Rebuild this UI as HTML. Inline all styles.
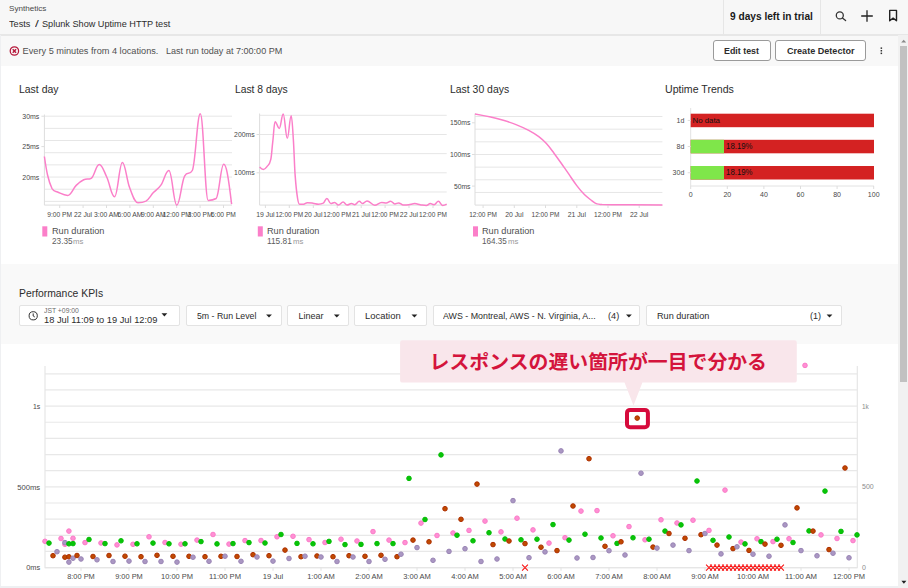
<!DOCTYPE html>
<html lang="en"><head><meta charset="utf-8"><title>Splunk Show Uptime HTTP test</title><style>
html,body{margin:0;padding:0;background:#fff}
body{width:908px;height:588px;position:relative;overflow:hidden;font-family:"Liberation Sans",sans-serif}
.a{position:absolute}
.t{position:absolute;white-space:pre;line-height:1;transform-origin:0 0}
.btn{position:absolute;box-sizing:border-box;background:#fff;border:1px solid #9a9a9a;border-radius:3px}
.sel{position:absolute;box-sizing:border-box;background:#fff;border:1px solid #e3e3e3;border-radius:2px;top:305.3px;height:20.6px}
svg{position:absolute;left:0;top:0}
svg text{font-family:"Liberation Sans",sans-serif}
</style></head><body>
<div class="a" style="left:0;top:0;width:908px;height:34px;background:#f7f7f7"></div>
<div class="a" style="left:0;top:34px;width:908px;height:1.5px;background:#e7e7e7"></div>
<div class="a" style="left:0;top:35.5px;width:899px;height:30.2px;background:#f8f8f8"></div>
<div class="a" style="left:722.5px;top:0;width:1px;height:34px;background:#e6e6e6"></div>
<div class="a" style="left:820px;top:0;width:1px;height:34px;background:#e6e6e6"></div>
<div class="a" style="left:0;top:263.5px;width:899px;height:80px;background:#f9f9f9"></div>
<div class="a" style="left:0;top:35px;width:1px;height:553px;background:#eff0f2"></div>
<div class="a" style="left:0;top:586px;width:899px;height:2px;background:#eef0f2"></div>
<div class="a" style="left:898.2px;top:35px;width:9.8px;height:553px;background:#f1f1f1"></div>
<div class="a" style="left:899.8px;top:46.4px;width:7.2px;height:335.8px;background:#c1c1c1"></div>
<div class="btn" style="left:712.8px;top:40.1px;width:57.8px;height:21.4px"></div>
<div class="btn" style="left:775.4px;top:40.1px;width:90.2px;height:21.4px"></div>
<div class="sel" style="left:19.2px;width:160.5px"></div>
<div class="sel" style="left:185.5px;width:96px"></div>
<div class="sel" style="left:286.9px;width:62.4px"></div>
<div class="sel" style="left:354.4px;width:72.2px"></div>
<div class="sel" style="left:433.1px;width:207.4px"></div>
<div class="sel" style="left:646.3px;width:195.3px"></div>
<svg width="908" height="588" viewBox="0 0 908 588">
<line x1="44.4" y1="116.20" x2="232" y2="116.20" stroke="#e6e6e6" stroke-width="1"/>
<line x1="44.4" y1="128.37" x2="232" y2="128.37" stroke="#e6e6e6" stroke-width="1"/>
<line x1="44.4" y1="140.54" x2="232" y2="140.54" stroke="#e6e6e6" stroke-width="1"/>
<line x1="44.4" y1="152.71" x2="232" y2="152.71" stroke="#e6e6e6" stroke-width="1"/>
<line x1="44.4" y1="164.88" x2="232" y2="164.88" stroke="#e6e6e6" stroke-width="1"/>
<line x1="44.4" y1="177.05" x2="232" y2="177.05" stroke="#e6e6e6" stroke-width="1"/>
<line x1="44.4" y1="189.22" x2="232" y2="189.22" stroke="#e6e6e6" stroke-width="1"/>
<line x1="44.4" y1="201.39" x2="232" y2="201.39" stroke="#e6e6e6" stroke-width="1"/>
<path d="M44.4,114.5V205.1H232" fill="none" stroke="#dddddd" stroke-width="1"/>
<line x1="41.4" y1="116.2" x2="44.4" y2="116.2" stroke="#dddddd"/>
<text x="39.3" y="118.7" font-size="7" text-anchor="end" fill="#484848" font-weight="400" textLength="17" lengthAdjust="spacingAndGlyphs">30ms</text>
<line x1="41.4" y1="146.6" x2="44.4" y2="146.6" stroke="#dddddd"/>
<text x="39.3" y="149.1" font-size="7" text-anchor="end" fill="#484848" font-weight="400" textLength="17" lengthAdjust="spacingAndGlyphs">25ms</text>
<line x1="41.4" y1="177.0" x2="44.4" y2="177.0" stroke="#dddddd"/>
<text x="39.3" y="179.5" font-size="7" text-anchor="end" fill="#484848" font-weight="400" textLength="17" lengthAdjust="spacingAndGlyphs">20ms</text>
<line x1="59.7" y1="205.1" x2="59.7" y2="208" stroke="#dddddd"/>
<text x="59.7" y="216.6" font-size="7" text-anchor="middle" fill="#484848" font-weight="400" textLength="24.8" lengthAdjust="spacingAndGlyphs">9:00 PM</text>
<line x1="83.1" y1="205.1" x2="83.1" y2="208" stroke="#dddddd"/>
<text x="83.1" y="216.6" font-size="7" text-anchor="middle" fill="#484848" font-weight="400" textLength="18.0" lengthAdjust="spacingAndGlyphs">22 Jul</text>
<line x1="106.5" y1="205.1" x2="106.5" y2="208" stroke="#dddddd"/>
<text x="106.5" y="216.6" font-size="7" text-anchor="middle" fill="#484848" font-weight="400" textLength="24.8" lengthAdjust="spacingAndGlyphs">3:00 AM</text>
<line x1="129.9" y1="205.1" x2="129.9" y2="208" stroke="#dddddd"/>
<text x="129.9" y="216.6" font-size="7" text-anchor="middle" fill="#484848" font-weight="400" textLength="24.8" lengthAdjust="spacingAndGlyphs">6:00 AM</text>
<line x1="153.3" y1="205.1" x2="153.3" y2="208" stroke="#dddddd"/>
<text x="153.3" y="216.6" font-size="7" text-anchor="middle" fill="#484848" font-weight="400" textLength="24.8" lengthAdjust="spacingAndGlyphs">9:00 AM</text>
<line x1="176.7" y1="205.1" x2="176.7" y2="208" stroke="#dddddd"/>
<text x="176.7" y="216.6" font-size="7" text-anchor="middle" fill="#484848" font-weight="400" textLength="28.4" lengthAdjust="spacingAndGlyphs">12:00 PM</text>
<line x1="200.1" y1="205.1" x2="200.1" y2="208" stroke="#dddddd"/>
<text x="200.1" y="216.6" font-size="7" text-anchor="middle" fill="#484848" font-weight="400" textLength="24.8" lengthAdjust="spacingAndGlyphs">3:00 PM</text>
<line x1="223.5" y1="205.1" x2="223.5" y2="208" stroke="#dddddd"/>
<text x="223.5" y="216.6" font-size="7" text-anchor="middle" fill="#484848" font-weight="400" textLength="24.8" lengthAdjust="spacingAndGlyphs">6:00 PM</text>
<path d="M44.4,156.5C44.4,156.5 46.3,169.8 47.6,175.2C49.3,182.5 50.2,184.6 51.9,188.3C54.1,192.0 55.3,191.0 57.5,192.0C61.6,193.8 63.7,195.4 67.8,195.4C71.2,195.4 72.8,188.7 76.2,185.4C79.2,182.5 80.7,181.2 83.7,179.8C86.7,178.4 88.2,179.8 91.2,178.3C94.4,176.8 96.0,164.5 99.2,164.5C102.2,164.5 103.7,170.7 106.7,177.0C109.9,183.6 111.4,196.7 114.6,196.7C117.7,196.7 119.3,162.6 122.4,162.6C125.2,162.6 126.7,180.0 129.5,187.3C132.9,196.0 134.6,202.7 138.0,202.7C141.2,202.7 142.7,202.7 145.9,201.1C148.9,199.5 150.4,195.8 153.4,192.6C156.4,189.4 157.9,189.4 160.9,185.1C164.1,180.5 165.7,170.5 168.9,170.5C172.1,170.5 173.6,205.1 176.8,205.1C179.9,205.1 181.5,181.7 184.6,176.1C187.7,170.5 189.2,176.1 192.3,170.5C195.5,164.9 197.1,113.8 200.3,113.8C203.5,113.8 205.0,200.4 208.2,200.4C211.4,200.4 212.9,200.4 216.1,198.5C219.1,196.6 220.7,164.3 223.7,164.3C225.1,164.3 225.9,166.0 227.3,173.3C229.0,182.0 231.6,204.2 231.6,204.2" fill="none" stroke="#fb7fc9" stroke-width="1.5" stroke-linejoin="round"/>
<line x1="259.6" y1="115.30" x2="446.7" y2="115.30" stroke="#e6e6e6" stroke-width="1"/>
<line x1="259.6" y1="134.47" x2="446.7" y2="134.47" stroke="#e6e6e6" stroke-width="1"/>
<line x1="259.6" y1="153.64" x2="446.7" y2="153.64" stroke="#e6e6e6" stroke-width="1"/>
<line x1="259.6" y1="172.81" x2="446.7" y2="172.81" stroke="#e6e6e6" stroke-width="1"/>
<line x1="259.6" y1="191.98" x2="446.7" y2="191.98" stroke="#e6e6e6" stroke-width="1"/>
<path d="M259.6,113.5V205.1H446.7" fill="none" stroke="#dddddd" stroke-width="1"/>
<line x1="256.6" y1="134.5" x2="259.6" y2="134.5" stroke="#dddddd"/>
<text x="254.6" y="137.0" font-size="7" text-anchor="end" fill="#484848" font-weight="400" textLength="20.5" lengthAdjust="spacingAndGlyphs">200ms</text>
<line x1="256.6" y1="172.8" x2="259.6" y2="172.8" stroke="#dddddd"/>
<text x="254.6" y="175.3" font-size="7" text-anchor="end" fill="#484848" font-weight="400" textLength="20.5" lengthAdjust="spacingAndGlyphs">100ms</text>
<line x1="265.4" y1="205.1" x2="265.4" y2="208" stroke="#dddddd"/>
<text x="265.4" y="216.6" font-size="7" text-anchor="middle" fill="#484848" font-weight="400" textLength="18.3" lengthAdjust="spacingAndGlyphs">19 Jul</text>
<line x1="289.3" y1="205.1" x2="289.3" y2="208" stroke="#dddddd"/>
<text x="289.3" y="216.6" font-size="7" text-anchor="middle" fill="#484848" font-weight="400" textLength="27.8" lengthAdjust="spacingAndGlyphs">12:00 PM</text>
<line x1="313.3" y1="205.1" x2="313.3" y2="208" stroke="#dddddd"/>
<text x="313.3" y="216.6" font-size="7" text-anchor="middle" fill="#484848" font-weight="400" textLength="18.3" lengthAdjust="spacingAndGlyphs">20 Jul</text>
<line x1="337.2" y1="205.1" x2="337.2" y2="208" stroke="#dddddd"/>
<text x="337.2" y="216.6" font-size="7" text-anchor="middle" fill="#484848" font-weight="400" textLength="27.8" lengthAdjust="spacingAndGlyphs">12:00 PM</text>
<line x1="361.2" y1="205.1" x2="361.2" y2="208" stroke="#dddddd"/>
<text x="361.2" y="216.6" font-size="7" text-anchor="middle" fill="#484848" font-weight="400" textLength="18.3" lengthAdjust="spacingAndGlyphs">21 Jul</text>
<line x1="385.1" y1="205.1" x2="385.1" y2="208" stroke="#dddddd"/>
<text x="385.1" y="216.6" font-size="7" text-anchor="middle" fill="#484848" font-weight="400" textLength="27.8" lengthAdjust="spacingAndGlyphs">12:00 PM</text>
<line x1="409.0" y1="205.1" x2="409.0" y2="208" stroke="#dddddd"/>
<text x="409.0" y="216.6" font-size="7" text-anchor="middle" fill="#484848" font-weight="400" textLength="18.3" lengthAdjust="spacingAndGlyphs">22 Jul</text>
<line x1="433.0" y1="205.1" x2="433.0" y2="208" stroke="#dddddd"/>
<text x="433.0" y="216.6" font-size="7" text-anchor="middle" fill="#484848" font-weight="400" textLength="27.8" lengthAdjust="spacingAndGlyphs">12:00 PM</text>
<path d="M259.6,167.1C259.6,167.1 261.9,169.5 263.4,169.5C264.9,169.5 265.6,168.4 267.1,166.4C268.6,164.4 269.3,165.6 270.8,159.3C271.6,156.0 271.9,149.0 272.7,142.4C273.7,134.0 274.1,121.8 275.1,121.8C276.8,121.8 277.6,128.4 279.3,128.4C280.9,128.4 281.6,114.0 283.2,114.0C284.8,114.0 285.7,138.3 287.3,138.3C288.9,138.3 289.6,115.7 291.2,115.7C292.0,115.7 292.5,126.0 293.3,138.7C294.1,150.2 294.4,165.5 295.2,176.1C296.2,189.5 296.6,192.2 297.6,198.5C298.4,203.5 298.7,204.2 299.5,204.2C301.1,204.2 302.0,204.2 303.6,204.2C305.1,204.2 305.8,202.7 307.3,202.7C309.5,202.7 310.7,202.9 312.9,203.2C315.1,203.5 316.3,204.2 318.5,204.2C320.4,204.2 321.3,204.2 323.2,203.2C324.7,202.2 325.4,198.5 326.9,198.5C328.5,198.5 329.2,203.6 330.8,203.6C332.3,203.6 333.1,202.4 334.6,202.4C336.2,202.4 336.9,205.0 338.5,205.0C340.3,205.0 341.3,202.1 343.1,202.1C344.7,202.1 345.4,205.0 347.0,205.0C348.8,205.0 349.8,203.5 351.6,203.5C352.8,203.5 353.5,204.7 354.7,204.7C356.5,204.7 357.5,201.2 359.3,201.2C360.5,201.2 361.2,203.6 362.4,203.6C364.2,203.6 365.2,200.9 367.0,200.9C370.1,200.9 371.6,205.2 374.7,205.2C377.5,205.2 378.9,202.4 381.7,202.4C383.5,202.4 384.5,202.9 386.3,202.9C388.0,202.9 388.9,201.2 390.6,201.2C392.3,201.2 393.1,203.9 394.8,203.9C396.3,203.9 397.1,202.9 398.6,202.9C400.5,202.9 401.4,205.0 403.3,205.0C405.5,205.0 406.5,205.0 408.7,204.7C411.1,204.4 412.4,203.6 414.8,203.6C417.0,203.6 418.0,204.3 420.2,204.7C422.7,205.1 423.9,205.5 426.4,205.5C427.9,205.5 428.7,203.6 430.2,203.6C431.8,203.6 432.5,204.7 434.1,204.7C435.8,204.7 436.7,201.3 438.4,201.3C440.1,201.3 440.9,205.5 442.6,205.5C444.2,205.5 446.7,204.2 446.7,204.2" fill="none" stroke="#fb7fc9" stroke-width="1.5" stroke-linejoin="round"/>
<line x1="475" y1="116.50" x2="662.4" y2="116.50" stroke="#e6e6e6" stroke-width="1"/>
<line x1="475" y1="129.16" x2="662.4" y2="129.16" stroke="#e6e6e6" stroke-width="1"/>
<line x1="475" y1="141.82" x2="662.4" y2="141.82" stroke="#e6e6e6" stroke-width="1"/>
<line x1="475" y1="154.48" x2="662.4" y2="154.48" stroke="#e6e6e6" stroke-width="1"/>
<line x1="475" y1="167.14" x2="662.4" y2="167.14" stroke="#e6e6e6" stroke-width="1"/>
<line x1="475" y1="179.80" x2="662.4" y2="179.80" stroke="#e6e6e6" stroke-width="1"/>
<line x1="475" y1="192.46" x2="662.4" y2="192.46" stroke="#e6e6e6" stroke-width="1"/>
<path d="M475,113.5V205.1H662.4" fill="none" stroke="#dddddd" stroke-width="1"/>
<line x1="472" y1="122.8" x2="475" y2="122.8" stroke="#dddddd"/>
<text x="470.4" y="125.3" font-size="7" text-anchor="end" fill="#484848" font-weight="400" textLength="20.5" lengthAdjust="spacingAndGlyphs">150ms</text>
<line x1="472" y1="154.5" x2="475" y2="154.5" stroke="#dddddd"/>
<text x="470.4" y="157.0" font-size="7" text-anchor="end" fill="#484848" font-weight="400" textLength="20.5" lengthAdjust="spacingAndGlyphs">100ms</text>
<line x1="472" y1="186.1" x2="475" y2="186.1" stroke="#dddddd"/>
<text x="470.4" y="188.6" font-size="7" text-anchor="end" fill="#484848" font-weight="400" textLength="16.5" lengthAdjust="spacingAndGlyphs">50ms</text>
<line x1="483.1" y1="205.1" x2="483.1" y2="208" stroke="#dddddd"/>
<text x="483.1" y="216.6" font-size="7" text-anchor="middle" fill="#484848" font-weight="400" textLength="27.8" lengthAdjust="spacingAndGlyphs">12:00 PM</text>
<line x1="514.3" y1="205.1" x2="514.3" y2="208" stroke="#dddddd"/>
<text x="514.3" y="216.6" font-size="7" text-anchor="middle" fill="#484848" font-weight="400" textLength="18.3" lengthAdjust="spacingAndGlyphs">20 Jul</text>
<line x1="545.5" y1="205.1" x2="545.5" y2="208" stroke="#dddddd"/>
<text x="545.5" y="216.6" font-size="7" text-anchor="middle" fill="#484848" font-weight="400" textLength="27.8" lengthAdjust="spacingAndGlyphs">12:00 PM</text>
<line x1="576.8" y1="205.1" x2="576.8" y2="208" stroke="#dddddd"/>
<text x="576.8" y="216.6" font-size="7" text-anchor="middle" fill="#484848" font-weight="400" textLength="18.3" lengthAdjust="spacingAndGlyphs">21 Jul</text>
<line x1="608.0" y1="205.1" x2="608.0" y2="208" stroke="#dddddd"/>
<text x="608.0" y="216.6" font-size="7" text-anchor="middle" fill="#484848" font-weight="400" textLength="27.8" lengthAdjust="spacingAndGlyphs">12:00 PM</text>
<line x1="639.2" y1="205.1" x2="639.2" y2="208" stroke="#dddddd"/>
<text x="639.2" y="216.6" font-size="7" text-anchor="middle" fill="#484848" font-weight="400" textLength="18.3" lengthAdjust="spacingAndGlyphs">22 Jul</text>
<path d="M475.0,113.9C475.0,113.9 484.4,115.6 490.7,117.0C495.7,118.1 498.3,118.8 503.3,120.3C508.4,121.8 510.9,122.6 516.0,124.6C521.1,126.6 523.6,127.7 528.7,130.4C532.7,132.5 534.8,133.7 538.8,136.7C541.8,139.0 543.4,140.3 546.4,143.6C549.4,146.9 551.0,149.2 554.0,153.2C557.0,157.2 558.6,159.5 561.6,163.8C564.6,168.1 566.2,170.3 569.2,174.7C572.2,179.1 573.8,181.6 576.8,185.6C579.8,189.6 581.4,191.5 584.4,194.5C587.4,197.5 589.0,198.5 592.0,200.8C594.0,202.3 595.0,203.3 597.0,203.9C599.0,204.5 600.1,204.3 602.1,204.5C608.2,204.7 611.2,204.6 617.3,204.7C635.3,204.9 662.4,205.1 662.4,205.1" fill="none" stroke="#fb7fc9" stroke-width="1.5" stroke-linejoin="round"/>
<rect x="42.3" y="226.3" width="5" height="10.2" fill="#fb7fc9"/>
<rect x="257.8" y="226.3" width="5" height="10.2" fill="#fb7fc9"/>
<rect x="473" y="226.3" width="5" height="10.2" fill="#fb7fc9"/>
<path d="M690.7,108V186H874.0" fill="none" stroke="#e2e2e2"/>
<rect x="690.7" y="113.7" width="183.3" height="13.5" fill="#d42222"/>
<line x1="687.7" y1="120.45" x2="690.7" y2="120.45" stroke="#dddddd"/>
<text x="684.3" y="123.0" font-size="7" text-anchor="end" fill="#484848" font-weight="400">1d</text>
<rect x="690.7" y="139.8" width="183.3" height="13.5" fill="#d42222"/>
<rect x="690.7" y="139.8" width="33.3" height="13.5" fill="#7fe64a"/>
<line x1="687.7" y1="146.55" x2="690.7" y2="146.55" stroke="#dddddd"/>
<text x="684.3" y="149.10000000000002" font-size="7" text-anchor="end" fill="#484848" font-weight="400">8d</text>
<rect x="690.7" y="166.0" width="183.3" height="13.5" fill="#d42222"/>
<rect x="690.7" y="166.0" width="33.3" height="13.5" fill="#7fe64a"/>
<line x1="687.7" y1="172.75" x2="690.7" y2="172.75" stroke="#dddddd"/>
<text x="684.3" y="175.3" font-size="7" text-anchor="end" fill="#484848" font-weight="400">30d</text>
<text x="692.5" y="122.6" font-size="7.5" text-anchor="start" fill="#111" font-weight="400" textLength="27.5" lengthAdjust="spacingAndGlyphs">No data</text>
<text x="726.1" y="149.0" font-size="8.5" text-anchor="start" fill="#111" font-weight="400" textLength="26.4" lengthAdjust="spacingAndGlyphs">18.19%</text>
<text x="726.1" y="175.1" font-size="8.5" text-anchor="start" fill="#111" font-weight="400" textLength="26.4" lengthAdjust="spacingAndGlyphs">18.19%</text>
<line x1="690.7" y1="186" x2="690.7" y2="189" stroke="#dddddd"/>
<text x="690.7" y="196.6" font-size="7" text-anchor="middle" fill="#484848" font-weight="400">0</text>
<line x1="727.3" y1="186" x2="727.3" y2="189" stroke="#dddddd"/>
<text x="727.3" y="196.6" font-size="7" text-anchor="middle" fill="#484848" font-weight="400">20</text>
<line x1="763.9" y1="186" x2="763.9" y2="189" stroke="#dddddd"/>
<text x="763.9" y="196.6" font-size="7" text-anchor="middle" fill="#484848" font-weight="400">40</text>
<line x1="800.5" y1="186" x2="800.5" y2="189" stroke="#dddddd"/>
<text x="800.5" y="196.6" font-size="7" text-anchor="middle" fill="#484848" font-weight="400">60</text>
<line x1="837.1" y1="186" x2="837.1" y2="189" stroke="#dddddd"/>
<text x="837.1" y="196.6" font-size="7" text-anchor="middle" fill="#484848" font-weight="400">80</text>
<line x1="873.7" y1="186" x2="873.7" y2="189" stroke="#dddddd"/>
<text x="873.7" y="196.6" font-size="7" text-anchor="middle" fill="#484848" font-weight="400">100</text>
<line x1="45.0" y1="567.60" x2="857.3" y2="567.60" stroke="#e8e8e8" stroke-width="1.2"/>
<line x1="45.0" y1="551.45" x2="857.3" y2="551.45" stroke="#e8e8e8" stroke-width="1.2"/>
<line x1="45.0" y1="535.30" x2="857.3" y2="535.30" stroke="#e8e8e8" stroke-width="1.2"/>
<line x1="45.0" y1="519.15" x2="857.3" y2="519.15" stroke="#e8e8e8" stroke-width="1.2"/>
<line x1="45.0" y1="503.00" x2="857.3" y2="503.00" stroke="#e8e8e8" stroke-width="1.2"/>
<line x1="45.0" y1="486.85" x2="857.3" y2="486.85" stroke="#e8e8e8" stroke-width="1.2"/>
<line x1="45.0" y1="470.70" x2="857.3" y2="470.70" stroke="#e8e8e8" stroke-width="1.2"/>
<line x1="45.0" y1="454.55" x2="857.3" y2="454.55" stroke="#e8e8e8" stroke-width="1.2"/>
<line x1="45.0" y1="438.40" x2="857.3" y2="438.40" stroke="#e8e8e8" stroke-width="1.2"/>
<line x1="45.0" y1="422.25" x2="857.3" y2="422.25" stroke="#e8e8e8" stroke-width="1.2"/>
<line x1="45.0" y1="406.10" x2="857.3" y2="406.10" stroke="#e8e8e8" stroke-width="1.2"/>
<line x1="45.0" y1="389.95" x2="857.3" y2="389.95" stroke="#e8e8e8" stroke-width="1.2"/>
<line x1="45.0" y1="373.80" x2="857.3" y2="373.80" stroke="#e8e8e8" stroke-width="1.2"/>
<path d="M45.0,366V567.6H857.3V366" fill="none" stroke="#e6e6e6" stroke-width="1.2"/>
<text x="40.2" y="408.90000000000003" font-size="7.6" text-anchor="end" fill="#4a4a4a" font-weight="400" textLength="7.3" lengthAdjust="spacingAndGlyphs">1s</text>
<text x="40.2" y="489.65000000000003" font-size="7.6" text-anchor="end" fill="#4a4a4a" font-weight="400" textLength="23" lengthAdjust="spacingAndGlyphs">500ms</text>
<text x="40.2" y="570.4" font-size="7.6" text-anchor="end" fill="#4a4a4a" font-weight="400" textLength="14" lengthAdjust="spacingAndGlyphs">0ms</text>
<text x="862" y="408.5" font-size="6.8" text-anchor="start" fill="#8c8c8c" font-weight="400" textLength="6.8" lengthAdjust="spacingAndGlyphs">1k</text>
<text x="862" y="489.25" font-size="6.8" text-anchor="start" fill="#8c8c8c" font-weight="400" textLength="11.7" lengthAdjust="spacingAndGlyphs">500</text>
<text x="862" y="570.0" font-size="6.8" text-anchor="start" fill="#8c8c8c" font-weight="400" textLength="3.9" lengthAdjust="spacingAndGlyphs">0</text>
<line x1="81" y1="567.6" x2="81" y2="570.8" stroke="#e2e2e2"/>
<text x="81" y="579.4" font-size="7.8" text-anchor="middle" fill="#4a4a4a" font-weight="400" textLength="27.6" lengthAdjust="spacingAndGlyphs">8:00 PM</text>
<line x1="129" y1="567.6" x2="129" y2="570.8" stroke="#e2e2e2"/>
<text x="129" y="579.4" font-size="7.8" text-anchor="middle" fill="#4a4a4a" font-weight="400" textLength="27.6" lengthAdjust="spacingAndGlyphs">9:00 PM</text>
<line x1="177" y1="567.6" x2="177" y2="570.8" stroke="#e2e2e2"/>
<text x="177" y="579.4" font-size="7.8" text-anchor="middle" fill="#4a4a4a" font-weight="400" textLength="32" lengthAdjust="spacingAndGlyphs">10:00 PM</text>
<line x1="225" y1="567.6" x2="225" y2="570.8" stroke="#e2e2e2"/>
<text x="225" y="579.4" font-size="7.8" text-anchor="middle" fill="#4a4a4a" font-weight="400" textLength="32" lengthAdjust="spacingAndGlyphs">11:00 PM</text>
<line x1="273" y1="567.6" x2="273" y2="570.8" stroke="#e2e2e2"/>
<text x="273" y="579.4" font-size="7.8" text-anchor="middle" fill="#4a4a4a" font-weight="400" textLength="20.5" lengthAdjust="spacingAndGlyphs">19 Jul</text>
<line x1="321" y1="567.6" x2="321" y2="570.8" stroke="#e2e2e2"/>
<text x="321" y="579.4" font-size="7.8" text-anchor="middle" fill="#4a4a4a" font-weight="400" textLength="27.6" lengthAdjust="spacingAndGlyphs">1:00 AM</text>
<line x1="369" y1="567.6" x2="369" y2="570.8" stroke="#e2e2e2"/>
<text x="369" y="579.4" font-size="7.8" text-anchor="middle" fill="#4a4a4a" font-weight="400" textLength="27.6" lengthAdjust="spacingAndGlyphs">2:00 AM</text>
<line x1="417" y1="567.6" x2="417" y2="570.8" stroke="#e2e2e2"/>
<text x="417" y="579.4" font-size="7.8" text-anchor="middle" fill="#4a4a4a" font-weight="400" textLength="27.6" lengthAdjust="spacingAndGlyphs">3:00 AM</text>
<line x1="465" y1="567.6" x2="465" y2="570.8" stroke="#e2e2e2"/>
<text x="465" y="579.4" font-size="7.8" text-anchor="middle" fill="#4a4a4a" font-weight="400" textLength="27.6" lengthAdjust="spacingAndGlyphs">4:00 AM</text>
<line x1="513" y1="567.6" x2="513" y2="570.8" stroke="#e2e2e2"/>
<text x="513" y="579.4" font-size="7.8" text-anchor="middle" fill="#4a4a4a" font-weight="400" textLength="27.6" lengthAdjust="spacingAndGlyphs">5:00 AM</text>
<line x1="561" y1="567.6" x2="561" y2="570.8" stroke="#e2e2e2"/>
<text x="561" y="579.4" font-size="7.8" text-anchor="middle" fill="#4a4a4a" font-weight="400" textLength="27.6" lengthAdjust="spacingAndGlyphs">6:00 AM</text>
<line x1="609" y1="567.6" x2="609" y2="570.8" stroke="#e2e2e2"/>
<text x="609" y="579.4" font-size="7.8" text-anchor="middle" fill="#4a4a4a" font-weight="400" textLength="27.6" lengthAdjust="spacingAndGlyphs">7:00 AM</text>
<line x1="657" y1="567.6" x2="657" y2="570.8" stroke="#e2e2e2"/>
<text x="657" y="579.4" font-size="7.8" text-anchor="middle" fill="#4a4a4a" font-weight="400" textLength="27.6" lengthAdjust="spacingAndGlyphs">8:00 AM</text>
<line x1="705" y1="567.6" x2="705" y2="570.8" stroke="#e2e2e2"/>
<text x="705" y="579.4" font-size="7.8" text-anchor="middle" fill="#4a4a4a" font-weight="400" textLength="27.6" lengthAdjust="spacingAndGlyphs">9:00 AM</text>
<line x1="753" y1="567.6" x2="753" y2="570.8" stroke="#e2e2e2"/>
<text x="753" y="579.4" font-size="7.8" text-anchor="middle" fill="#4a4a4a" font-weight="400" textLength="32" lengthAdjust="spacingAndGlyphs">10:00 AM</text>
<line x1="801" y1="567.6" x2="801" y2="570.8" stroke="#e2e2e2"/>
<text x="801" y="579.4" font-size="7.8" text-anchor="middle" fill="#4a4a4a" font-weight="400" textLength="32" lengthAdjust="spacingAndGlyphs">11:00 AM</text>
<line x1="849" y1="567.6" x2="849" y2="570.8" stroke="#e2e2e2"/>
<text x="849" y="579.4" font-size="7.8" text-anchor="middle" fill="#4a4a4a" font-weight="400" textLength="32" lengthAdjust="spacingAndGlyphs">12:00 PM</text>
<circle cx="45.0" cy="541.3" r="2.3" fill="#ff8fd4" stroke="#fb7bc8" stroke-width="1"/>
<circle cx="49.0" cy="543.1" r="2.3" fill="#08c408" stroke="#05bd05" stroke-width="1"/>
<circle cx="53.0" cy="555.7" r="2.3" fill="#c04a00" stroke="#ae2e00" stroke-width="1"/>
<circle cx="57.0" cy="551.7" r="2.3" fill="#aa97c3" stroke="#9a85b5" stroke-width="1"/>
<circle cx="61.0" cy="538.5" r="2.3" fill="#ff8fd4" stroke="#fb7bc8" stroke-width="1"/>
<circle cx="64.9" cy="544.3" r="2.3" fill="#ff8fd4" stroke="#fb7bc8" stroke-width="1"/>
<circle cx="64.9" cy="557.2" r="2.3" fill="#c04a00" stroke="#ae2e00" stroke-width="1"/>
<circle cx="64.9" cy="542.6" r="2.3" fill="#aa97c3" stroke="#9a85b5" stroke-width="1"/>
<circle cx="68.9" cy="531.1" r="2.3" fill="#ff8fd4" stroke="#fb7bc8" stroke-width="1"/>
<circle cx="68.9" cy="543.8" r="2.3" fill="#08c408" stroke="#05bd05" stroke-width="1"/>
<circle cx="68.9" cy="556.8" r="2.3" fill="#c04a00" stroke="#ae2e00" stroke-width="1"/>
<circle cx="68.9" cy="562.1" r="2.3" fill="#aa97c3" stroke="#9a85b5" stroke-width="1"/>
<circle cx="73.0" cy="538.3" r="2.3" fill="#ff8fd4" stroke="#fb7bc8" stroke-width="1"/>
<circle cx="73.0" cy="543.6" r="2.3" fill="#08c408" stroke="#05bd05" stroke-width="1"/>
<circle cx="73.0" cy="558.2" r="2.3" fill="#aa97c3" stroke="#9a85b5" stroke-width="1"/>
<circle cx="77.0" cy="555.5" r="2.3" fill="#c04a00" stroke="#ae2e00" stroke-width="1"/>
<circle cx="81.0" cy="559.0" r="2.3" fill="#aa97c3" stroke="#9a85b5" stroke-width="1"/>
<circle cx="85.0" cy="542.6" r="2.3" fill="#ff8fd4" stroke="#fb7bc8" stroke-width="1"/>
<circle cx="89.0" cy="539.5" r="2.3" fill="#08c408" stroke="#05bd05" stroke-width="1"/>
<circle cx="93.0" cy="556.5" r="2.3" fill="#c04a00" stroke="#ae2e00" stroke-width="1"/>
<circle cx="97.0" cy="559.8" r="2.3" fill="#aa97c3" stroke="#9a85b5" stroke-width="1"/>
<circle cx="101.0" cy="543.0" r="2.3" fill="#ff8fd4" stroke="#fb7bc8" stroke-width="1"/>
<circle cx="105.0" cy="543.6" r="2.3" fill="#08c408" stroke="#05bd05" stroke-width="1"/>
<circle cx="109.0" cy="555.5" r="2.3" fill="#c04a00" stroke="#ae2e00" stroke-width="1"/>
<circle cx="113.0" cy="561.5" r="2.3" fill="#aa97c3" stroke="#9a85b5" stroke-width="1"/>
<circle cx="117.0" cy="544.9" r="2.3" fill="#ff8fd4" stroke="#fb7bc8" stroke-width="1"/>
<circle cx="121.0" cy="540.8" r="2.3" fill="#08c408" stroke="#05bd05" stroke-width="1"/>
<circle cx="125.0" cy="556.2" r="2.3" fill="#c04a00" stroke="#ae2e00" stroke-width="1"/>
<circle cx="129.0" cy="561.1" r="2.3" fill="#aa97c3" stroke="#9a85b5" stroke-width="1"/>
<circle cx="133.0" cy="544.3" r="2.3" fill="#ff8fd4" stroke="#fb7bc8" stroke-width="1"/>
<circle cx="137.0" cy="543.8" r="2.3" fill="#08c408" stroke="#05bd05" stroke-width="1"/>
<circle cx="141.0" cy="556.7" r="2.3" fill="#c04a00" stroke="#ae2e00" stroke-width="1"/>
<circle cx="145.0" cy="561.5" r="2.3" fill="#aa97c3" stroke="#9a85b5" stroke-width="1"/>
<circle cx="149.0" cy="536.8" r="2.3" fill="#ff8fd4" stroke="#fb7bc8" stroke-width="1"/>
<circle cx="153.0" cy="543.1" r="2.3" fill="#08c408" stroke="#05bd05" stroke-width="1"/>
<circle cx="157.0" cy="555.3" r="2.3" fill="#c04a00" stroke="#ae2e00" stroke-width="1"/>
<circle cx="161.0" cy="561.5" r="2.3" fill="#aa97c3" stroke="#9a85b5" stroke-width="1"/>
<circle cx="165.0" cy="542.5" r="2.3" fill="#ff8fd4" stroke="#fb7bc8" stroke-width="1"/>
<circle cx="169.0" cy="543.8" r="2.3" fill="#08c408" stroke="#05bd05" stroke-width="1"/>
<circle cx="173.0" cy="556.3" r="2.3" fill="#c04a00" stroke="#ae2e00" stroke-width="1"/>
<circle cx="177.0" cy="562.1" r="2.3" fill="#aa97c3" stroke="#9a85b5" stroke-width="1"/>
<circle cx="181.0" cy="544.2" r="2.3" fill="#ff8fd4" stroke="#fb7bc8" stroke-width="1"/>
<circle cx="185.0" cy="543.8" r="2.3" fill="#08c408" stroke="#05bd05" stroke-width="1"/>
<circle cx="189.0" cy="556.3" r="2.3" fill="#c04a00" stroke="#ae2e00" stroke-width="1"/>
<circle cx="193.0" cy="557.2" r="2.3" fill="#aa97c3" stroke="#9a85b5" stroke-width="1"/>
<circle cx="197.0" cy="540.1" r="2.3" fill="#ff8fd4" stroke="#fb7bc8" stroke-width="1"/>
<circle cx="201.0" cy="541.6" r="2.3" fill="#08c408" stroke="#05bd05" stroke-width="1"/>
<circle cx="205.0" cy="556.7" r="2.3" fill="#c04a00" stroke="#ae2e00" stroke-width="1"/>
<circle cx="209.0" cy="561.3" r="2.3" fill="#aa97c3" stroke="#9a85b5" stroke-width="1"/>
<circle cx="213.0" cy="534.5" r="2.3" fill="#ff8fd4" stroke="#fb7bc8" stroke-width="1"/>
<circle cx="217.0" cy="543.9" r="2.3" fill="#08c408" stroke="#05bd05" stroke-width="1"/>
<circle cx="221.0" cy="556.3" r="2.3" fill="#c04a00" stroke="#ae2e00" stroke-width="1"/>
<circle cx="225.0" cy="556.2" r="2.3" fill="#aa97c3" stroke="#9a85b5" stroke-width="1"/>
<circle cx="229.0" cy="544.1" r="2.3" fill="#ff8fd4" stroke="#fb7bc8" stroke-width="1"/>
<circle cx="233.0" cy="543.6" r="2.3" fill="#08c408" stroke="#05bd05" stroke-width="1"/>
<circle cx="237.0" cy="556.5" r="2.3" fill="#c04a00" stroke="#ae2e00" stroke-width="1"/>
<circle cx="241.0" cy="561.3" r="2.3" fill="#aa97c3" stroke="#9a85b5" stroke-width="1"/>
<circle cx="245.0" cy="540.6" r="2.3" fill="#ff8fd4" stroke="#fb7bc8" stroke-width="1"/>
<circle cx="249.0" cy="542.6" r="2.3" fill="#08c408" stroke="#05bd05" stroke-width="1"/>
<circle cx="253.0" cy="554.7" r="2.3" fill="#c04a00" stroke="#ae2e00" stroke-width="1"/>
<circle cx="257.0" cy="557.0" r="2.3" fill="#aa97c3" stroke="#9a85b5" stroke-width="1"/>
<circle cx="261.0" cy="540.5" r="2.3" fill="#ff8fd4" stroke="#fb7bc8" stroke-width="1"/>
<circle cx="265.0" cy="543.0" r="2.3" fill="#08c408" stroke="#05bd05" stroke-width="1"/>
<circle cx="269.0" cy="555.7" r="2.3" fill="#c04a00" stroke="#ae2e00" stroke-width="1"/>
<circle cx="273.0" cy="561.1" r="2.3" fill="#aa97c3" stroke="#9a85b5" stroke-width="1"/>
<circle cx="277.0" cy="536.8" r="2.3" fill="#ff8fd4" stroke="#fb7bc8" stroke-width="1"/>
<circle cx="281.0" cy="534.5" r="2.3" fill="#08c408" stroke="#05bd05" stroke-width="1"/>
<circle cx="285.0" cy="550.1" r="2.3" fill="#c04a00" stroke="#ae2e00" stroke-width="1"/>
<circle cx="289.0" cy="558.5" r="2.3" fill="#aa97c3" stroke="#9a85b5" stroke-width="1"/>
<circle cx="293.0" cy="536.3" r="2.3" fill="#ff8fd4" stroke="#fb7bc8" stroke-width="1"/>
<circle cx="297.0" cy="543.4" r="2.3" fill="#08c408" stroke="#05bd05" stroke-width="1"/>
<circle cx="301.0" cy="556.7" r="2.3" fill="#c04a00" stroke="#ae2e00" stroke-width="1"/>
<circle cx="305.0" cy="556.2" r="2.3" fill="#aa97c3" stroke="#9a85b5" stroke-width="1"/>
<circle cx="309.0" cy="539.6" r="2.3" fill="#ff8fd4" stroke="#fb7bc8" stroke-width="1"/>
<circle cx="313.0" cy="543.8" r="2.3" fill="#08c408" stroke="#05bd05" stroke-width="1"/>
<circle cx="317.0" cy="556.0" r="2.3" fill="#c04a00" stroke="#ae2e00" stroke-width="1"/>
<circle cx="321.0" cy="557.0" r="2.3" fill="#aa97c3" stroke="#9a85b5" stroke-width="1"/>
<circle cx="325.0" cy="542.5" r="2.3" fill="#ff8fd4" stroke="#fb7bc8" stroke-width="1"/>
<circle cx="329.0" cy="541.4" r="2.3" fill="#08c408" stroke="#05bd05" stroke-width="1"/>
<circle cx="333.0" cy="556.7" r="2.3" fill="#c04a00" stroke="#ae2e00" stroke-width="1"/>
<circle cx="337.0" cy="561.5" r="2.3" fill="#aa97c3" stroke="#9a85b5" stroke-width="1"/>
<circle cx="341.0" cy="539.2" r="2.3" fill="#ff8fd4" stroke="#fb7bc8" stroke-width="1"/>
<circle cx="345.0" cy="544.6" r="2.3" fill="#08c408" stroke="#05bd05" stroke-width="1"/>
<circle cx="349.0" cy="555.7" r="2.3" fill="#c04a00" stroke="#ae2e00" stroke-width="1"/>
<circle cx="353.0" cy="557.0" r="2.3" fill="#aa97c3" stroke="#9a85b5" stroke-width="1"/>
<circle cx="357.0" cy="541.0" r="2.3" fill="#ff8fd4" stroke="#fb7bc8" stroke-width="1"/>
<circle cx="361.0" cy="544.4" r="2.3" fill="#08c408" stroke="#05bd05" stroke-width="1"/>
<circle cx="365.0" cy="556.3" r="2.3" fill="#c04a00" stroke="#ae2e00" stroke-width="1"/>
<circle cx="369.0" cy="561.5" r="2.3" fill="#aa97c3" stroke="#9a85b5" stroke-width="1"/>
<circle cx="373.0" cy="531.6" r="2.3" fill="#ff8fd4" stroke="#fb7bc8" stroke-width="1"/>
<circle cx="377.0" cy="543.6" r="2.3" fill="#08c408" stroke="#05bd05" stroke-width="1"/>
<circle cx="381.0" cy="555.3" r="2.3" fill="#c04a00" stroke="#ae2e00" stroke-width="1"/>
<circle cx="385.0" cy="559.3" r="2.3" fill="#aa97c3" stroke="#9a85b5" stroke-width="1"/>
<circle cx="389.0" cy="540.1" r="2.3" fill="#ff8fd4" stroke="#fb7bc8" stroke-width="1"/>
<circle cx="393.0" cy="543.6" r="2.3" fill="#08c408" stroke="#05bd05" stroke-width="1"/>
<circle cx="397.0" cy="556.7" r="2.3" fill="#c04a00" stroke="#ae2e00" stroke-width="1"/>
<circle cx="401.0" cy="554.2" r="2.3" fill="#aa97c3" stroke="#9a85b5" stroke-width="1"/>
<circle cx="405.0" cy="542.6" r="2.3" fill="#ff8fd4" stroke="#fb7bc8" stroke-width="1"/>
<circle cx="409.0" cy="478.4" r="2.3" fill="#08c408" stroke="#05bd05" stroke-width="1"/>
<circle cx="413.0" cy="540.1" r="2.3" fill="#c04a00" stroke="#ae2e00" stroke-width="1"/>
<circle cx="417.0" cy="547.6" r="2.3" fill="#aa97c3" stroke="#9a85b5" stroke-width="1"/>
<circle cx="421.0" cy="523.1" r="2.3" fill="#ff8fd4" stroke="#fb7bc8" stroke-width="1"/>
<circle cx="425.0" cy="519.5" r="2.3" fill="#08c408" stroke="#05bd05" stroke-width="1"/>
<circle cx="429.0" cy="541.8" r="2.3" fill="#c04a00" stroke="#ae2e00" stroke-width="1"/>
<circle cx="433.0" cy="560.3" r="2.3" fill="#aa97c3" stroke="#9a85b5" stroke-width="1"/>
<circle cx="437.0" cy="535.5" r="2.3" fill="#ff8fd4" stroke="#fb7bc8" stroke-width="1"/>
<circle cx="441.0" cy="454.9" r="2.3" fill="#08c408" stroke="#05bd05" stroke-width="1"/>
<circle cx="445.0" cy="508.7" r="2.3" fill="#c04a00" stroke="#ae2e00" stroke-width="1"/>
<circle cx="449.0" cy="551.4" r="2.3" fill="#aa97c3" stroke="#9a85b5" stroke-width="1"/>
<circle cx="453.0" cy="533.0" r="2.3" fill="#ff8fd4" stroke="#fb7bc8" stroke-width="1"/>
<circle cx="457.0" cy="535.2" r="2.3" fill="#08c408" stroke="#05bd05" stroke-width="1"/>
<circle cx="461.0" cy="519.3" r="2.3" fill="#c04a00" stroke="#ae2e00" stroke-width="1"/>
<circle cx="465.0" cy="548.7" r="2.3" fill="#aa97c3" stroke="#9a85b5" stroke-width="1"/>
<circle cx="469.0" cy="530.4" r="2.3" fill="#ff8fd4" stroke="#fb7bc8" stroke-width="1"/>
<circle cx="473.0" cy="540.8" r="2.3" fill="#08c408" stroke="#05bd05" stroke-width="1"/>
<circle cx="477.0" cy="484.1" r="2.3" fill="#c04a00" stroke="#ae2e00" stroke-width="1"/>
<circle cx="481.0" cy="561.5" r="2.3" fill="#aa97c3" stroke="#9a85b5" stroke-width="1"/>
<circle cx="485.0" cy="521.1" r="2.3" fill="#ff8fd4" stroke="#fb7bc8" stroke-width="1"/>
<circle cx="489.0" cy="532.7" r="2.3" fill="#08c408" stroke="#05bd05" stroke-width="1"/>
<circle cx="493.0" cy="544.6" r="2.3" fill="#c04a00" stroke="#ae2e00" stroke-width="1"/>
<circle cx="497.0" cy="559.0" r="2.3" fill="#aa97c3" stroke="#9a85b5" stroke-width="1"/>
<circle cx="501.0" cy="531.9" r="2.3" fill="#ff8fd4" stroke="#fb7bc8" stroke-width="1"/>
<circle cx="505.0" cy="539.0" r="2.3" fill="#08c408" stroke="#05bd05" stroke-width="1"/>
<circle cx="509.0" cy="541.0" r="2.3" fill="#c04a00" stroke="#ae2e00" stroke-width="1"/>
<circle cx="513.0" cy="500.6" r="2.3" fill="#aa97c3" stroke="#9a85b5" stroke-width="1"/>
<circle cx="517.0" cy="518.2" r="2.3" fill="#ff8fd4" stroke="#fb7bc8" stroke-width="1"/>
<circle cx="521.0" cy="539.8" r="2.3" fill="#08c408" stroke="#05bd05" stroke-width="1"/>
<circle cx="525.0" cy="543.6" r="2.3" fill="#c04a00" stroke="#ae2e00" stroke-width="1"/>
<circle cx="529.0" cy="557.7" r="2.3" fill="#aa97c3" stroke="#9a85b5" stroke-width="1"/>
<circle cx="533.0" cy="529.9" r="2.3" fill="#ff8fd4" stroke="#fb7bc8" stroke-width="1"/>
<circle cx="537.0" cy="539.2" r="2.3" fill="#08c408" stroke="#05bd05" stroke-width="1"/>
<circle cx="541.0" cy="547.2" r="2.3" fill="#c04a00" stroke="#ae2e00" stroke-width="1"/>
<circle cx="545.0" cy="551.9" r="2.3" fill="#aa97c3" stroke="#9a85b5" stroke-width="1"/>
<circle cx="549.0" cy="543.1" r="2.3" fill="#ff8fd4" stroke="#fb7bc8" stroke-width="1"/>
<circle cx="553.0" cy="524.6" r="2.3" fill="#08c408" stroke="#05bd05" stroke-width="1"/>
<circle cx="557.0" cy="550.6" r="2.3" fill="#c04a00" stroke="#ae2e00" stroke-width="1"/>
<circle cx="561.0" cy="450.9" r="2.3" fill="#aa97c3" stroke="#9a85b5" stroke-width="1"/>
<circle cx="565.0" cy="537.7" r="2.3" fill="#ff8fd4" stroke="#fb7bc8" stroke-width="1"/>
<circle cx="569.0" cy="540.1" r="2.3" fill="#08c408" stroke="#05bd05" stroke-width="1"/>
<circle cx="573.0" cy="506.0" r="2.3" fill="#c04a00" stroke="#ae2e00" stroke-width="1"/>
<circle cx="577.0" cy="558.0" r="2.3" fill="#aa97c3" stroke="#9a85b5" stroke-width="1"/>
<circle cx="581.0" cy="511.1" r="2.3" fill="#ff8fd4" stroke="#fb7bc8" stroke-width="1"/>
<circle cx="585.0" cy="534.2" r="2.3" fill="#08c408" stroke="#05bd05" stroke-width="1"/>
<circle cx="589.0" cy="458.7" r="2.3" fill="#c04a00" stroke="#ae2e00" stroke-width="1"/>
<circle cx="593.0" cy="557.5" r="2.3" fill="#aa97c3" stroke="#9a85b5" stroke-width="1"/>
<circle cx="597.0" cy="510.6" r="2.3" fill="#ff8fd4" stroke="#fb7bc8" stroke-width="1"/>
<circle cx="601.0" cy="538.0" r="2.3" fill="#08c408" stroke="#05bd05" stroke-width="1"/>
<circle cx="605.0" cy="546.3" r="2.3" fill="#c04a00" stroke="#ae2e00" stroke-width="1"/>
<circle cx="609.0" cy="550.7" r="2.3" fill="#aa97c3" stroke="#9a85b5" stroke-width="1"/>
<circle cx="613.0" cy="535.8" r="2.3" fill="#ff8fd4" stroke="#fb7bc8" stroke-width="1"/>
<circle cx="617.0" cy="543.4" r="2.3" fill="#08c408" stroke="#05bd05" stroke-width="1"/>
<circle cx="621.0" cy="541.8" r="2.3" fill="#c04a00" stroke="#ae2e00" stroke-width="1"/>
<circle cx="625.0" cy="555.0" r="2.3" fill="#aa97c3" stroke="#9a85b5" stroke-width="1"/>
<circle cx="629.0" cy="526.6" r="2.3" fill="#ff8fd4" stroke="#fb7bc8" stroke-width="1"/>
<circle cx="633.0" cy="537.8" r="2.3" fill="#08c408" stroke="#05bd05" stroke-width="1"/>
<circle cx="637.0" cy="418.1" r="2.3" fill="#c04a00" stroke="#ae2e00" stroke-width="1"/>
<circle cx="641.0" cy="473.2" r="2.3" fill="#aa97c3" stroke="#9a85b5" stroke-width="1"/>
<circle cx="645.0" cy="539.8" r="2.3" fill="#ff8fd4" stroke="#fb7bc8" stroke-width="1"/>
<circle cx="649.0" cy="539.2" r="2.3" fill="#08c408" stroke="#05bd05" stroke-width="1"/>
<circle cx="653.0" cy="547.1" r="2.3" fill="#c04a00" stroke="#ae2e00" stroke-width="1"/>
<circle cx="657.0" cy="548.1" r="2.3" fill="#aa97c3" stroke="#9a85b5" stroke-width="1"/>
<circle cx="661.0" cy="519.8" r="2.3" fill="#ff8fd4" stroke="#fb7bc8" stroke-width="1"/>
<circle cx="665.0" cy="531.1" r="2.3" fill="#08c408" stroke="#05bd05" stroke-width="1"/>
<circle cx="669.0" cy="533.5" r="2.3" fill="#c04a00" stroke="#ae2e00" stroke-width="1"/>
<circle cx="673.0" cy="545.1" r="2.3" fill="#aa97c3" stroke="#9a85b5" stroke-width="1"/>
<circle cx="677.0" cy="523.0" r="2.3" fill="#ff8fd4" stroke="#fb7bc8" stroke-width="1"/>
<circle cx="681.0" cy="524.9" r="2.3" fill="#08c408" stroke="#05bd05" stroke-width="1"/>
<circle cx="685.0" cy="538.3" r="2.3" fill="#c04a00" stroke="#ae2e00" stroke-width="1"/>
<circle cx="689.0" cy="550.6" r="2.3" fill="#aa97c3" stroke="#9a85b5" stroke-width="1"/>
<circle cx="693.0" cy="520.2" r="2.3" fill="#ff8fd4" stroke="#fb7bc8" stroke-width="1"/>
<circle cx="697.0" cy="481.0" r="2.3" fill="#08c408" stroke="#05bd05" stroke-width="1"/>
<circle cx="701.0" cy="534.7" r="2.3" fill="#c04a00" stroke="#ae2e00" stroke-width="1"/>
<circle cx="705.0" cy="533.5" r="2.3" fill="#aa97c3" stroke="#9a85b5" stroke-width="1"/>
<circle cx="709.0" cy="530.4" r="2.3" fill="#ff8fd4" stroke="#fb7bc8" stroke-width="1"/>
<circle cx="713.0" cy="540.3" r="2.3" fill="#08c408" stroke="#05bd05" stroke-width="1"/>
<circle cx="717.0" cy="545.1" r="2.3" fill="#c04a00" stroke="#ae2e00" stroke-width="1"/>
<circle cx="721.0" cy="553.9" r="2.3" fill="#aa97c3" stroke="#9a85b5" stroke-width="1"/>
<circle cx="725.0" cy="490.1" r="2.3" fill="#ff8fd4" stroke="#fb7bc8" stroke-width="1"/>
<circle cx="729.0" cy="537.0" r="2.3" fill="#08c408" stroke="#05bd05" stroke-width="1"/>
<circle cx="733.0" cy="548.6" r="2.3" fill="#c04a00" stroke="#ae2e00" stroke-width="1"/>
<circle cx="737.0" cy="546.8" r="2.3" fill="#aa97c3" stroke="#9a85b5" stroke-width="1"/>
<circle cx="741.0" cy="542.1" r="2.3" fill="#ff8fd4" stroke="#fb7bc8" stroke-width="1"/>
<circle cx="745.0" cy="543.9" r="2.3" fill="#08c408" stroke="#05bd05" stroke-width="1"/>
<circle cx="749.0" cy="550.4" r="2.3" fill="#c04a00" stroke="#ae2e00" stroke-width="1"/>
<circle cx="753.0" cy="554.2" r="2.3" fill="#aa97c3" stroke="#9a85b5" stroke-width="1"/>
<circle cx="757.0" cy="538.8" r="2.3" fill="#ff8fd4" stroke="#fb7bc8" stroke-width="1"/>
<circle cx="761.0" cy="541.6" r="2.3" fill="#08c408" stroke="#05bd05" stroke-width="1"/>
<circle cx="765.0" cy="544.1" r="2.3" fill="#c04a00" stroke="#ae2e00" stroke-width="1"/>
<circle cx="769.0" cy="556.2" r="2.3" fill="#aa97c3" stroke="#9a85b5" stroke-width="1"/>
<circle cx="773.0" cy="541.6" r="2.3" fill="#ff8fd4" stroke="#fb7bc8" stroke-width="1"/>
<circle cx="777.0" cy="539.2" r="2.3" fill="#08c408" stroke="#05bd05" stroke-width="1"/>
<circle cx="781.0" cy="545.3" r="2.3" fill="#c04a00" stroke="#ae2e00" stroke-width="1"/>
<circle cx="785.0" cy="524.9" r="2.3" fill="#aa97c3" stroke="#9a85b5" stroke-width="1"/>
<circle cx="789.0" cy="538.7" r="2.3" fill="#ff8fd4" stroke="#fb7bc8" stroke-width="1"/>
<circle cx="793.0" cy="542.5" r="2.3" fill="#08c408" stroke="#05bd05" stroke-width="1"/>
<circle cx="797.0" cy="507.9" r="2.3" fill="#c04a00" stroke="#ae2e00" stroke-width="1"/>
<circle cx="801.0" cy="550.6" r="2.3" fill="#aa97c3" stroke="#9a85b5" stroke-width="1"/>
<circle cx="805.0" cy="365.4" r="2.3" fill="#ff8fd4" stroke="#fb7bc8" stroke-width="1"/>
<circle cx="809.0" cy="530.9" r="2.3" fill="#08c408" stroke="#05bd05" stroke-width="1"/>
<circle cx="813.0" cy="531.1" r="2.3" fill="#c04a00" stroke="#ae2e00" stroke-width="1"/>
<circle cx="817.0" cy="555.8" r="2.3" fill="#aa97c3" stroke="#9a85b5" stroke-width="1"/>
<circle cx="821.0" cy="534.9" r="2.3" fill="#ff8fd4" stroke="#fb7bc8" stroke-width="1"/>
<circle cx="825.0" cy="491.1" r="2.3" fill="#08c408" stroke="#05bd05" stroke-width="1"/>
<circle cx="829.0" cy="549.6" r="2.3" fill="#c04a00" stroke="#ae2e00" stroke-width="1"/>
<circle cx="833.0" cy="553.2" r="2.3" fill="#aa97c3" stroke="#9a85b5" stroke-width="1"/>
<circle cx="837.0" cy="538.5" r="2.3" fill="#ff8fd4" stroke="#fb7bc8" stroke-width="1"/>
<circle cx="841.0" cy="531.4" r="2.3" fill="#08c408" stroke="#05bd05" stroke-width="1"/>
<circle cx="845.0" cy="468.0" r="2.3" fill="#c04a00" stroke="#ae2e00" stroke-width="1"/>
<circle cx="849.0" cy="557.8" r="2.3" fill="#aa97c3" stroke="#9a85b5" stroke-width="1"/>
<circle cx="853.0" cy="540.6" r="2.3" fill="#ff8fd4" stroke="#fb7bc8" stroke-width="1"/>
<circle cx="857.0" cy="534.9" r="2.3" fill="#08c408" stroke="#05bd05" stroke-width="1"/>
<path d="M522.1,564.7l5.8,6m0,-6l-5.8,6M706.1,564.7l5.8,6m0,-6l-5.8,6M710.1,564.7l5.8,6m0,-6l-5.8,6M714.1,564.7l5.8,6m0,-6l-5.8,6M718.1,564.7l5.8,6m0,-6l-5.8,6M722.1,564.7l5.8,6m0,-6l-5.8,6M726.1,564.7l5.8,6m0,-6l-5.8,6M730.1,564.7l5.8,6m0,-6l-5.8,6M734.1,564.7l5.8,6m0,-6l-5.8,6M738.1,564.7l5.8,6m0,-6l-5.8,6M742.1,564.7l5.8,6m0,-6l-5.8,6M746.1,564.7l5.8,6m0,-6l-5.8,6M750.1,564.7l5.8,6m0,-6l-5.8,6M754.1,564.7l5.8,6m0,-6l-5.8,6M758.1,564.7l5.8,6m0,-6l-5.8,6M762.1,564.7l5.8,6m0,-6l-5.8,6M766.1,564.7l5.8,6m0,-6l-5.8,6M770.1,564.7l5.8,6m0,-6l-5.8,6M774.1,564.7l5.8,6m0,-6l-5.8,6M778.1,564.7l5.8,6m0,-6l-5.8,6" stroke="#f90d0d" stroke-width="1.05" fill="none"/>
<path d="M402.3,340.2H794.6a2.2,2.2 0 0 1 2.2,2.2V380.4a2.2,2.2 0 0 1 -2.2,2.2H642.4L633.5,405.4L624.5,382.6H402.3a2.2,2.2 0 0 1 -2.2,-2.2V342.4a2.2,2.2 0 0 1 2.2,-2.2Z" fill="#f9e6eb"/>
<rect x="627" y="409.9" width="20.9" height="17.3" rx="3" fill="#fff" stroke="#d60a3c" stroke-width="4"/>
<circle cx="637.2" cy="418.1" r="2.3" fill="#c04a00" stroke="#ae2e00" stroke-width="1"/>
<text x="429.6" y="369.2" font-size="19.8" font-weight="700" fill="#d4143c" text-anchor="start" textLength="337.4" lengthAdjust="spacingAndGlyphs" style="font-family:'Liberation Sans','Noto Sans CJK JP',sans-serif">レスポンスの遅い箇所が一目で分かる</text>
<g stroke="#b5173a" fill="none" stroke-width="1.25"><circle cx="14.4" cy="51" r="4.2"/><path d="M12.7,49.3l3.4,3.4m0,-3.4l-3.4,3.4" stroke-width="1.4"/></g>
<g stroke="#333" fill="none" stroke-width="1.3" stroke-linecap="round"><circle cx="839.8" cy="15.4" r="3.5"/><path d="M842.4,18.0l3.2,2.6"/></g>
<path d="M861.2,16h11.6M867,10.2v11.6" stroke="#222" stroke-width="1.3" fill="none"/>
<path d="M889.7,10.4h6.8v10.4l-3.4,-2.7l-3.4,2.7z" stroke="#222" stroke-width="1.4" fill="none" stroke-linejoin="round"/>
<g fill="#333"><rect x="880.6" y="47.4" width="1.5" height="1.5"/><rect x="880.6" y="50" width="1.5" height="1.5"/><rect x="880.6" y="52.6" width="1.5" height="1.5"/></g>
<g stroke="#333" fill="none" stroke-width="1"><circle cx="33.2" cy="315.8" r="4.1"/><path d="M33.2,313.4v2.6l1.6,1"/></g>
<path d="M161.5,313.3h5.8l-2.9,3.2z" fill="#222"/>
<path d="M266.1,314.4h5.8l-2.9,3.2z" fill="#222"/>
<path d="M333.90000000000003,314.4h5.8l-2.9,3.2z" fill="#222"/>
<path d="M411.5,314.4h5.8l-2.9,3.2z" fill="#222"/>
<path d="M626.0,314.4h5.8l-2.9,3.2z" fill="#222"/>
<path d="M826.6,314.4h5.8l-2.9,3.2z" fill="#222"/>
<path d="M901.2,42.6l2.5,-2.8l2.5,2.8z" fill="#888"/><path d="M901.4,580.8h5l-2.5,3z" fill="#222"/>
</svg>
<span class="t" style="left:9.3px;top:4.6px;font-size:7.5px;color:#4a4a4a;transform:scaleX(1.0777);">Synthetics</span>
<span class="t" style="left:9.4px;top:18.9px;font-size:9.5px;color:#2c2c2c;transform:scaleX(0.9600);">Tests</span>
<span class="t" style="left:35.3px;top:18.9px;font-size:9.5px;color:#2c2c2c;transform:scaleX(1.4391);">/</span>
<span class="t" style="left:42.2px;top:18.9px;font-size:9.5px;color:#2c2c2c;transform:scaleX(0.9617);">Splunk Show Uptime HTTP test</span>
<span class="t" style="left:729.9px;top:10.7px;font-size:10.5px;color:#1a1a1a;font-weight:700;transform:scaleX(0.9664);">9 days left in trial</span>
<span class="t" style="left:22.6px;top:47.1px;font-size:9.2px;color:#505050;">Every 5 minutes from 4 locations.</span>
<span class="t" style="left:166.2px;top:47.1px;font-size:9.2px;color:#505050;transform:scaleX(0.9857);">Last run today at 7:00:00 PM</span>
<span class="t" style="left:724.2px;top:46.2px;font-size:9.5px;color:#2c2c2c;font-weight:700;transform:scaleX(0.9337);">Edit test</span>
<span class="t" style="left:786.9px;top:46.2px;font-size:9.5px;color:#2c2c2c;font-weight:700;transform:scaleX(0.9541);">Create Detector</span>
<span class="t" style="left:18.8px;top:84.0px;font-size:10.5px;color:#2c2c2c;transform:scaleX(0.9949);">Last day</span>
<span class="t" style="left:234.5px;top:84.0px;font-size:10.5px;color:#2c2c2c;transform:scaleX(0.9813);">Last 8 days</span>
<span class="t" style="left:449.7px;top:84.0px;font-size:10.5px;color:#2c2c2c;transform:scaleX(0.9925);">Last 30 days</span>
<span class="t" style="left:665.2px;top:84.0px;font-size:10.5px;color:#2c2c2c;transform:scaleX(1.0091);">Uptime Trends</span>
<span class="t" style="left:51.7px;top:227.1px;font-size:9px;color:#505050;transform:scaleX(1.0166);">Run duration</span>
<span class="t" style="left:51.7px;top:237.3px;font-size:8.5px;color:#5c5c5c;transform:scaleX(0.9680);">23.35</span>
<span class="t" style="left:72.9px;top:238.2px;font-size:7.5px;color:#999;transform:scaleX(1.0400);">ms</span>
<span class="t" style="left:267.2px;top:227.1px;font-size:9px;color:#505050;transform:scaleX(1.0166);">Run duration</span>
<span class="t" style="left:267.2px;top:237.3px;font-size:8.5px;color:#5c5c5c;transform:scaleX(0.9773);">115.81</span>
<span class="t" style="left:292.6px;top:238.2px;font-size:7.5px;color:#999;transform:scaleX(1.0400);">ms</span>
<span class="t" style="left:482.4px;top:227.1px;font-size:9px;color:#505050;transform:scaleX(1.0166);">Run duration</span>
<span class="t" style="left:482.4px;top:237.3px;font-size:8.5px;color:#5c5c5c;transform:scaleX(0.9538);">164.35</span>
<span class="t" style="left:507.8px;top:238.2px;font-size:7.5px;color:#999;transform:scaleX(1.0400);">ms</span>
<span class="t" style="left:19.0px;top:288.4px;font-size:10.5px;color:#2c2c2c;transform:scaleX(0.9871);">Performance KPIs</span>
<span class="t" style="left:43.8px;top:307.6px;font-size:6.6px;color:#6a6a6a;transform:scaleX(1.0326);">JST +09:00</span>
<span class="t" style="left:44.3px;top:315.6px;font-size:9px;color:#2c2c2c;transform:scaleX(1.0316);">18 Jul 11:09 to 19 Jul 12:09</span>
<span class="t" style="left:196.8px;top:311.5px;font-size:9px;color:#2c2c2c;transform:scaleX(0.9733);">5m - Run Level</span>
<span class="t" style="left:298.5px;top:311.5px;font-size:9px;color:#2c2c2c;">Linear</span>
<span class="t" style="left:365.4px;top:311.5px;font-size:9px;color:#2c2c2c;transform:scaleX(1.0490);">Location</span>
<span class="t" style="left:443.3px;top:311.5px;font-size:9px;color:#2c2c2c;transform:scaleX(0.9831);">AWS - Montreal, AWS - N. Virginia, A...</span>
<span class="t" style="left:608.0px;top:311.5px;font-size:9px;color:#2c2c2c;transform:scaleX(1.0182);">(4)</span>
<span class="t" style="left:657.0px;top:311.5px;font-size:9px;color:#2c2c2c;transform:scaleX(1.0146);">Run duration</span>
<span class="t" style="left:810.1px;top:311.5px;font-size:9px;color:#2c2c2c;transform:scaleX(1.0091);">(1)</span>
</body></html>
